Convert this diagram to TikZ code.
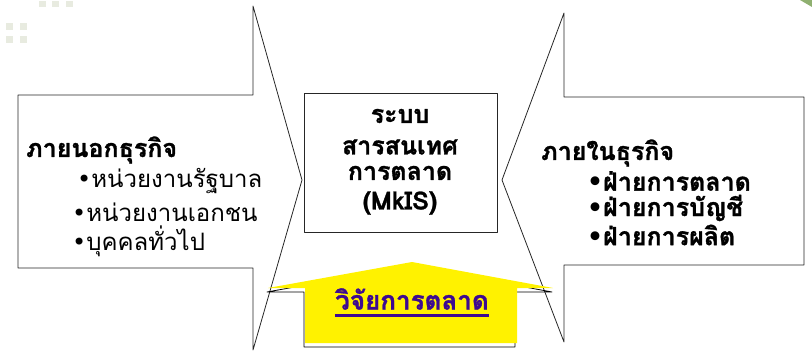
\documentclass[tikz,border=0pt]{standalone}
\usepackage{fontspec}
\usepackage{xcolor}
\usepackage{tikz}
\usetikzlibrary{calc}
\setmainfont[Script=Thai,BoldFeatures={FakeBold=1.2}]{Loma}
\newfontfamily\symfont{DejaVu Sans}
\newcommand{\blt}{{\symfont\char"2022}}
\definecolor{deco}{RGB}{232,235,224}
\definecolor{leaf}{RGB}{143,176,112}
\definecolor{rsch}{RGB}{61,10,145}
\tikzset{
  txt/.style={inner sep=0pt,anchor=west,font=\fontsize{24}{28}\selectfont},
  hd/.style={txt,font=\fontsize{25}{30}\selectfont\bfseries},
  mid/.style={inner sep=0pt,font=\fontsize{25}{29}\selectfont\bfseries}
}
\begin{document}
\begin{tikzpicture}[line cap=round,line join=round,x=1pt,y=-1pt]
\useasboundingbox (0,0) rectangle (812,351);
% corner decoration
\foreach \x in {39,52,66} \fill [deco] (\x,1) rectangle ++(7,6);
\foreach \x in {6,20} \foreach \y in {23,36} \fill [deco] (\x,\y) rectangle ++(7,7);
\fill [leaf] (800,0) -- (812,0) -- (812,7) -- cycle;
% big arrows
\draw [line width=0.8pt,draw=black!85] (18,95)-- (253,95)-- (253,6)-- (302,180)-- (253,350)-- (253,268)-- (18,268)-- cycle;
\draw [line width=0.8pt,draw=black!85] (804,97)-- (564,97)-- (564,13)-- (502,180)-- (564,342)-- (564,265)-- (804,265)-- cycle;
\draw [line width=0.8pt,draw=black!85] (304,93) rectangle (497,232);
% research arrow
\draw [line width=0.8pt] (411,266)-- (552,292)-- (515,292)-- (515,347)-- (304,347)-- (304,292)-- (267,292)-- cycle;
\fill [yellow] (412,262)-- (553,288)-- (517,288)-- (517,343)-- (305,343)-- (305,288)-- (268,288)-- cycle;
% texts
\draw (26,150) node[hd] (outhead) {ภายนอกธุรกิจ};
\draw (77,181) node[txt] (out1) {\blt หน่วยงานรัฐบาล};
\draw (72,212) node[txt] (out2) {\blt หน่วยงานเอกชน};
\draw (72,241) node[txt] (out3) {\blt บุคคลทั่วไป};
\draw (400,116) node[mid] (mis1) {ระบบ};
\draw (400,147) node[mid] (mis2) {สารสนเทศ};
\draw (400,173) node[mid] (mis3) {การตลาด};
\draw (400,203) node[mid] (mis4) {(MkIS)};
\draw (541,153) node[hd] (inhead) {ภายในธุรกิจ};
\draw (587,181) node[hd] (in1) {\blt ฝ่ายการตลาด};
\draw (587,208) node[hd] (in2) {\blt ฝ่ายการบัญชี};
\draw (587,235) node[hd] (in3) {\blt ฝ่ายการผลิต};
\draw (412,299) node[mid,font=\fontsize{26}{30}\selectfont\bfseries,text=rsch] (rsch) {วิจัยการตลาด};
\draw [rsch,line width=3pt,line cap=butt] ([yshift=-6pt]rsch.base west)-- ([yshift=-6pt]rsch.base east);
\end{tikzpicture}
\end{document}
